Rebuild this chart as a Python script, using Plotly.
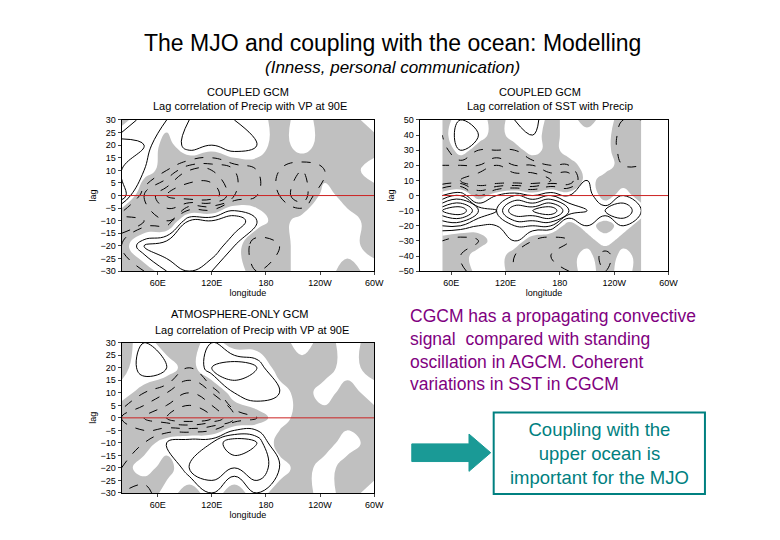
import plotly.graph_objects as go

# ---- data (estimated coarse grids) ----
lon1 = [20, 45, 70, 95, 120, 145, 170, 195, 220, 245, 270, 300]
lag1 = [-30, -20, -10, 0, 10, 20, 30]
z1 = [
    [-0.2, -0.1, 0.1, 0.2, 0.1, 0.1, -0.1, -0.1, 0.1, 0.1, -0.1, 0.1],
    [-0.1, 0.2, 0.3, 0.3, 0.3, 0.1, -0.2, -0.1, 0.1, 0.1, 0.1, -0.1],
    [-0.3, -0.2, -0.2, 0.2, 0.2, 0.3, 0.1, -0.1, 0.1, 0.1, 0.1, -0.1],
    [0.3, -0.2, -0.4, -0.5, -0.5, -0.2, -0.1, -0.1, -0.3, 0.1, -0.1, -0.1],
    [0.2, 0.1, -0.1, -0.3, -0.3, -0.2, -0.1, -0.1, -0.2, -0.1, -0.1, 0.1],
    [0.3, 0.2, -0.1, 0.2, 0.1, 0.2, 0.1, -0.1, 0.1, -0.1, -0.1, -0.1],
    [-0.1, 0.2, 0.1, 0.1, 0.2, 0.1, 0.1, -0.1, 0.1, -0.1, -0.1, 0.1],
]

lon2 = [50, 70, 90, 110, 130, 150, 170, 190, 210, 230, 250, 270]
lag2 = [-50, -40, -30, -20, -10, 0, 10, 20, 30, 40, 50]
z2 = [
    [-0.1, -0.2, 0.1, 0.1, -0.1, -0.2, -0.2, -0.1, 0.1, -0.1, 0.1, -0.1],
    [-0.2, -0.1, 0.1, 0.1, -0.1, -0.2, -0.1, -0.1, 0.1, -0.2, 0.1, -0.1],
    [-0.1, -0.2, -0.1, 0.1, 0.1, -0.1, -0.2, -0.1, -0.1, 0.1, -0.1, -0.1],
    [0.2, 0.2, 0.1, 0.1, 0.2, 0.2, 0.2, -0.1, 0.1, -0.1, 0.1, -0.1],
    [0.5, 0.6, 0.3, 0.2, 0.5, 0.5, 0.6, 0.3, 0.2, 0.2, 0.3, 0.1],
    [0.1, 0.2, -0.1, 0.1, 0.2, 0.1, 0.2, 0.1, 0.2, -0.1, 0.1, -0.1],
    [-0.3, -0.3, -0.4, -0.4, -0.4, -0.4, -0.3, -0.3, 0.1, -0.1, -0.1, -0.1],
    [-0.2, -0.2, -0.2, -0.3, -0.2, -0.2, -0.1, -0.1, 0.1, 0.1, -0.1, -0.1],
    [-0.2, 0.1, -0.1, -0.1, -0.1, 0.1, -0.1, 0.1, 0.1, 0.1, -0.2, -0.2],
    [-0.1, 0.2, 0.1, -0.1, 0.1, 0.1, -0.1, 0.1, 0.1, 0.1, -0.2, -0.2],
    [-0.1, 0.1, 0.1, -0.1, 0.1, 0.2, -0.1, 0.1, -0.1, 0.1, -0.1, -0.1],
]

lon3 = [20, 45, 70, 95, 120, 145, 170, 195, 220, 245, 270, 300]
lag3 = [-30, -20, -10, 0, 10, 20, 30]
z3 = [
    [-0.1, -0.2, 0.1, -0.1, 0.1, -0.1, 0.1, -0.1, -0.1, 0.1, -0.1, 0.1],
    [-0.1, 0.1, -0.1, 0.2, 0.3, 0.2, 0.3, 0.1, -0.1, 0.1, -0.1, -0.1],
    [-0.2, -0.1, 0.1, 0.2, 0.2, 0.4, 0.3, -0.1, -0.1, -0.1, 0.1, -0.1],
    [-0.2, -0.3, -0.4, -0.5, -0.4, -0.2, -0.1, 0.1, -0.1, -0.1, -0.1, -0.1],
    [0.1, -0.1, -0.2, -0.3, -0.2, 0.1, 0.2, 0.1, -0.1, 0.1, -0.1, 0.1],
    [-0.1, 0.2, 0.1, -0.1, 0.2, 0.3, 0.2, -0.1, -0.1, -0.1, 0.1, -0.1],
    [-0.1, 0.1, -0.1, -0.1, 0.1, -0.1, -0.1, -0.1, 0.1, -0.1, 0.1, -0.1],
]

lon_ticks = [60, 120, 180, 240, 300]
lon_labels = ["60E", "120E", "180", "120W", "60W"]

W, H, OX, OY = 780, 540, 1, 4
def px_(x): return (x - OX) / W
def py_(y): return 1 - (y - OY) / H

fig = go.Figure()

def add_panel(lon, lag, z, n):
    xr, yr = ("x", "y") if n == 1 else (f"x{n}", f"y{n}")
    common = dict(x=lon, y=lag, z=z, xaxis=xr, yaxis=yr, showscale=False,
                  line_smoothing=1.3, hoverinfo="skip")
    fig.add_trace(go.Contour(**common, autocontour=False,
        contours=dict(start=0, end=0, size=1, coloring="fill"),
        colorscale=[[0, "#c0c0c0"], [0.5, "#c0c0c0"], [0.5, "white"], [1, "white"]],
        zmin=-1, zmax=1, line=dict(width=0)))
    fig.add_trace(go.Contour(**common, autocontour=False,
        contours=dict(start=0.1, end=0.9, size=0.1, coloring="lines"),
        colorscale=[[0, "black"], [1, "black"]], line=dict(width=1)))
    fig.add_trace(go.Contour(**common, autocontour=False,
        contours=dict(start=-0.9, end=-0.1, size=0.1, coloring="lines"),
        colorscale=[[0, "black"], [1, "black"]], line=dict(width=1, dash="dash")))
    fig.add_trace(go.Scatter(x=[lon[0], 300], y=[0, 0], mode="lines", xaxis=xr, yaxis=yr,
        line=dict(color="#cc2222", width=1), showlegend=False, hoverinfo="skip"))

add_panel(lon1, lag1, z1, 1)
add_panel(lon2, lag2, z2, 2)
add_panel(lon3, lag3, z3, 3)

tf = dict(family="Arial", size=9, color="black")
def xax(x0, x1, anchor, rng):
    return dict(domain=[px_(x0), px_(x1)], anchor=anchor, range=rng, tickvals=lon_ticks, ticktext=lon_labels,
                showline=True, mirror=True, linecolor="black", ticks="outside", ticklen=3,
                showgrid=False, zeroline=False, tickfont=tf,
                title=dict(text="longitude", font=tf, standoff=0))
def yax(ytop, ybot, anchor, rng, dt):
    return dict(domain=[py_(ybot), py_(ytop)], anchor=anchor, range=rng, dtick=dt,
                showline=True, mirror=True, linecolor="black", ticks="outside", ticklen=3,
                showgrid=False, zeroline=False, tickfont=tf,
                title=dict(text="lag", font=tf, standoff=2))

fig.update_layout(
    width=W, height=H, margin=dict(l=0, r=0, t=0, b=0),
    paper_bgcolor="white", plot_bgcolor="white", showlegend=False,
    xaxis=xax(116, 372, "y", [20, 300]),
    yaxis=yax(113, 267, "x", [-30, 30], 5),
    xaxis2=xax(418, 670, "y2", [25, 300]),
    yaxis2=yax(113, 267, "x2", [-50, 50], 10),
    xaxis3=xax(116, 372, "y3", [20, 300]),
    yaxis3=yax(340, 493, "x3", [-30, 30], 5),
)

ann = [
    dict(x=390, y=35, text="The MJO and coupling with the ocean: Modelling", size=23),
    dict(x=390, y=60, text="<i>(Inness, personal communication)</i>", size=17),
    dict(x=244, y=84, text="COUPLED GCM", size=11),
    dict(x=246, y=99, text="Lag correlation of Precip with VP at 90E", size=11),
    dict(x=540, y=84, text="COUPLED GCM", size=11),
    dict(x=550, y=99, text="Lag correlation of SST with Precip", size=11),
    dict(x=236, y=311, text="ATMOSPHERE-ONLY GCM", size=11),
    dict(x=248, y=327, text="Lag correlation of Precip with VP at 90E", size=11),
]
for a in ann:
    fig.add_annotation(x=px_(a["x"]), y=py_(a["y"]), xref="paper", yref="paper",
                       text=a["text"], showarrow=False, xanchor="center", yanchor="middle",
                       font=dict(family="Arial", size=a["size"], color="black"))

fig.add_annotation(x=px_(406), y=py_(300), xref="paper", yref="paper", xanchor="left", yanchor="top",
    align="left", showarrow=False,
    text="CGCM has a propagating convective<br>signal  compared with standing<br>oscillation in AGCM. Coherent<br>variations in SST in CGCM",
    font=dict(family="Arial", size=17.5, color="#800080"))

fig.add_shape(type="rect", xref="paper", yref="paper", x0=px_(493), x1=px_(707),
              y0=py_(494), y1=py_(411), line=dict(color="#008080", width=2), fillcolor="white")
fig.add_annotation(x=px_(600), y=py_(453), xref="paper", yref="paper", showarrow=False,
    xanchor="center", yanchor="middle",
    text="Coupling with the<br>upper ocean is<br>important for the MJO",
    font=dict(family="Arial", size=18.5, color="#008080"), align="center")

# arrow
ax = [410, 468, 468, 490, 468, 468, 410, 410]
ay = [443, 443, 433, 452, 471, 461, 461, 443]
path = "M " + " L ".join(f"{px_(x):.4f},{py_(y):.4f}" for x, y in zip(ax, ay)) + " Z"
fig.add_shape(type="path", xref="paper", yref="paper", path=path,
              fillcolor="#1a9a96", line=dict(color="#1a9a96", width=1))

fig.write_html("out.html")
